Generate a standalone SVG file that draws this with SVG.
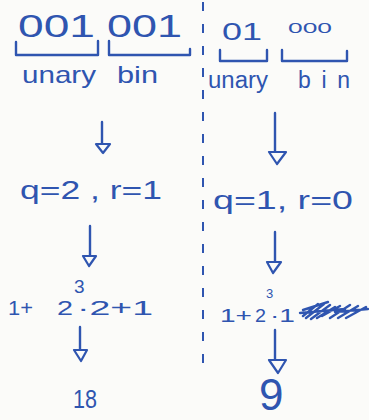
<svg xmlns="http://www.w3.org/2000/svg" width="369" height="420" viewBox="0 0 369 420">
<style>
.t{font-family:"Liberation Sans","DejaVu Sans",sans-serif;fill:#2f55b0}
.ink{fill:none;stroke:#2f55b0;stroke-width:2.4;stroke-linecap:round;stroke-linejoin:round}
.head{fill:#fbfbf9;stroke:#2f55b0;stroke-width:2.2;stroke-linejoin:round}
</style>
<rect width="369" height="420" fill="#fbfbf9"/>
<path d="M203 2V368" stroke="#2f55b0" stroke-width="2" stroke-dasharray="9 13" fill="none"/>
<g id="left-code">
<text class="t" x="18" y="37" font-size="31" textLength="77" lengthAdjust="spacingAndGlyphs">001</text>
<text class="t" x="107" y="37" font-size="31" textLength="75" lengthAdjust="spacingAndGlyphs">001</text>
<path class="ink" d="M16 42V55H98V41M109 41V55H190V49"/>
<text class="t" x="22" y="83" font-size="24" textLength="74" lengthAdjust="spacingAndGlyphs">unary</text>
<text class="t" x="117" y="83" font-size="24" textLength="41" lengthAdjust="spacingAndGlyphs">bin</text>
</g>
<g id="right-code">
<text class="t" x="222" y="40" font-size="23" textLength="40" lengthAdjust="spacingAndGlyphs">01</text>
<text class="t" x="288" y="33" font-size="15" textLength="44" lengthAdjust="spacingAndGlyphs">000</text>
<path class="ink" d="M220 50V61H267V50M282 50V61H347V51"/>
<text class="t" x="208" y="88" font-size="23" textLength="60" lengthAdjust="spacingAndGlyphs">unary</text>
<text class="t" x="298" y="88" font-size="23" textLength="52" lengthAdjust="spacing">bin</text>
</g>
<g id="left-qr">
<text class="t" x="20" y="199" font-size="25" textLength="142" lengthAdjust="spacingAndGlyphs">q=2 , r=1</text>
</g>
<g id="right-qr">
<text class="t" x="213" y="209" font-size="25" textLength="140" lengthAdjust="spacingAndGlyphs">q=1, r=0</text>
</g>
<g id="left-expr">
<text class="t" x="8" y="315" font-size="20" textLength="25" lengthAdjust="spacingAndGlyphs">1+</text>
<text class="t" x="57" y="315" font-size="20" textLength="16" lengthAdjust="spacingAndGlyphs">2</text>
<text class="t" x="74" y="293" font-size="19">3</text>
<text class="t" x="77" y="315" font-size="20" textLength="76" lengthAdjust="spacingAndGlyphs">·2+1</text>
</g>
<g id="right-expr">
<text class="t" x="220" y="322" font-size="19" textLength="32" lengthAdjust="spacingAndGlyphs">1+</text>
<text class="t" x="255" y="322" font-size="19" textLength="11" lengthAdjust="spacingAndGlyphs">2</text>
<text class="t" x="266" y="298" font-size="13">3</text>
<text class="t" x="270" y="322" font-size="19" textLength="25" lengthAdjust="spacingAndGlyphs">·1</text>
<path class="ink" stroke-width="2" d="M303 316L318 304M306 318L324 304M311 319L330 305M317 318L335 307M303 310L328 302M322 316L340 306M300 313L345 309M330 318L350 305M338 318L358 306M346 318L366 307M335 312L368 309"/>
</g>
<g id="left-result">
<text class="t" x="73" y="408" font-size="26" textLength="24" lengthAdjust="spacingAndGlyphs">18</text>
</g>
<g id="right-result">
<text class="t" x="259" y="410" font-size="44">9</text>
</g>
<g id="connectors">
<path class="ink" d="M102 122V144"/><path class="head" d="M96 144H110L103 153Z"/>
<path class="ink" d="M275 113V152"/><path class="head" d="M269 152H286L277 164Z"/>
<path class="ink" d="M90 226V256"/><path class="head" d="M83 256H96L89 266Z"/>
<path class="ink" d="M275 232V262"/><path class="head" d="M267 262H281L273 273Z"/>
<path class="ink" d="M80 327V350"/><path class="head" d="M74 350H87L81 361Z"/>
<path class="ink" d="M275 330V360"/><path class="head" d="M269 360H286L278 373Z"/>
</g>
</svg>
